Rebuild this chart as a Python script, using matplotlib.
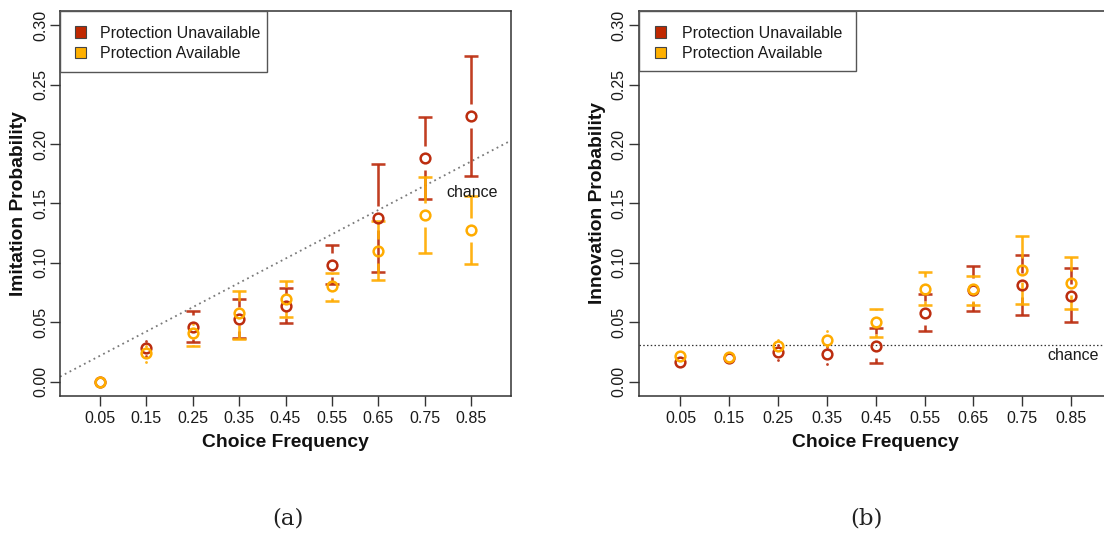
import matplotlib
matplotlib.use("Agg")
import matplotlib.pyplot as plt
from matplotlib.patches import Rectangle

# ---------------- data ----------------
choice_freq = [0.05, 0.15, 0.25, 0.35, 0.45, 0.55, 0.65, 0.75, 0.85]
x_ticklabels = ["0.05", "0.15", "0.25", "0.35", "0.45", "0.55", "0.65", "0.75", "0.85"]
y_ticks = [0.00, 0.05, 0.10, 0.15, 0.20, 0.25, 0.30]
y_ticklabels = ["0.00", "0.05", "0.10", "0.15", "0.20", "0.25", "0.30"]
series_labels = ["Protection Unavailable", "Protection Available"]

# (a) Imitation probability
imit_unavail = [0.000, 0.028, 0.0463, 0.0527, 0.0639, 0.098, 0.138, 0.1887, 0.2237]
imit_unavail_lo = [0.000, 0.022, 0.0336, 0.0364, 0.0496, 0.0819, 0.0925, 0.1542, 0.1733]
imit_unavail_hi = [0.000, 0.0345, 0.0594, 0.070, 0.0785, 0.115, 0.1836, 0.2229, 0.2742]
imit_avail = [0.000, 0.0238, 0.0412, 0.0575, 0.0695, 0.0805, 0.110, 0.140, 0.1276]
imit_avail_lo = [0.000, 0.0168, 0.030, 0.0356, 0.0547, 0.0678, 0.086, 0.108, 0.0995]
imit_avail_hi = [0.000, 0.030, 0.0485, 0.0763, 0.0847, 0.0917, 0.135, 0.1724, 0.1562]
chance_imit_intercept = 0.0116
chance_imit_slope = 0.2045

# (b) Innovation probability
innov_unavail = [0.0168, 0.020, 0.025, 0.0237, 0.030, 0.058, 0.0774, 0.081, 0.0723]
innov_unavail_lo = [0.0150, 0.0175, 0.018, 0.015, 0.0154, 0.0427, 0.0595, 0.0559, 0.0503]
innov_unavail_hi = [0.0190, 0.0225, 0.031, 0.029, 0.045, 0.074, 0.097, 0.1067, 0.0955]
innov_avail = [0.0215, 0.021, 0.030, 0.0355, 0.050, 0.078, 0.078, 0.094, 0.0832]
innov_avail_lo = [0.0195, 0.019, 0.026, 0.030, 0.038, 0.065, 0.065, 0.0656, 0.0615]
innov_avail_hi = [0.0235, 0.023, 0.0355, 0.043, 0.0615, 0.092, 0.0894, 0.1223, 0.1053]
chance_innov = 0.0313

# ---------------- style ----------------
W, H, DPI = 1104, 533, 100
RED = "#BC2D0F"
ORANGE = "#FFAC00"
RED_FILL = "#C02800"
ORANGE_FILL = "#FFB000"
FONT = ["Liberation Sans", "DejaVu Sans"]
plt.rcParams["font.family"] = FONT

fig = plt.figure(figsize=(W / DPI, H / DPI), dpi=DPI)


def add_axes_px(left, top, right, bottom):
    return fig.add_axes([left / W, 1 - bottom / H, (right - left) / W, (bottom - top) / H])


panels = [
    dict(box=(60, 11, 511, 396), y=(imit_unavail, imit_unavail_lo, imit_unavail_hi),
         y2=(imit_avail, imit_avail_lo, imit_avail_hi), ylabel="Imitation Probability",
         leg=(60, 11, 267, 72), sq_x=80, txt_x=100, chance_xy=(0.853, 0.159),
         ylab_x=23.3, tag="(a)", tag_x=288),
    dict(box=(638.5, 11, 1113, 396), y=(innov_unavail, innov_unavail_lo, innov_unavail_hi),
         y2=(innov_avail, innov_avail_lo, innov_avail_hi), ylabel="Innovation Probability",
         leg=(638.5, 11, 856, 71), sq_x=660, txt_x=682, chance_xy=(0.854, 0.0225),
         ylab_x=601.8, tag="(b)", tag_x=866.7),
]

GAP_PX = 12.0
LW = 1.85


def draw_series(ax, x, y, lo, hi, color):
    p0 = ax.transData.transform((0, 0))
    p1 = ax.transData.transform((0, 1))
    ppu = p1[1] - p0[1]
    gap = GAP_PX / ppu
    for xi, yi, l, h in zip(x, y, lo, hi):
        for bound, sgn in ((h, 1), (l, -1)):
            d = (bound - yi) * sgn
            if d > gap:
                ax.plot([xi, xi], [yi + sgn * gap, bound], color=color, lw=LW,
                        solid_capstyle="butt", alpha=0.92, zorder=3)
                ax.plot([xi], [bound], marker="_", ms=9.5, mew=LW, color=color,
                        alpha=0.92, zorder=3)
            elif d * ppu > 5:
                ax.plot([xi], [bound], marker="o", ms=2.0, mew=0, color=color,
                        alpha=0.9, zorder=3)
    ax.plot(x, y, ls="none", marker="o", ms=7.0, mfc="none", mec=color, mew=1.8, zorder=4)


for i, p in enumerate(panels):
    L, T, R, B = p["box"]
    ax = add_axes_px(L, T, R, B)
    ax.set_xlim(-0.036, 0.936)
    ax.set_ylim(-0.012, 0.312)
    ax.set_xticks(choice_freq)
    ax.set_xticklabels(x_ticklabels)
    ax.set_yticks(y_ticks)
    ax.set_yticklabels(y_ticklabels, rotation=90, va="center")
    ax.tick_params(axis="both", direction="out", length=7.5, width=1.0, color="#333333",
                   labelsize=11.5, labelcolor="#1a1a1a")
    ax.tick_params(axis="x", pad=3.0)
    ax.tick_params(axis="y", pad=1.2)
    for s in ax.spines.values():
        s.set_color("#333333")
        s.set_linewidth(1.1)

    # chance reference
    if i == 0:
        ax.axline((0, chance_imit_intercept), slope=chance_imit_slope, color="#7a7a7a",
                  lw=1.3, ls=(0, (1, 2.0)), zorder=2)
    else:
        ax.axhline(chance_innov, color="#333333", lw=0.9, ls=(0, (1.2, 1.8)), zorder=2)
    ax.text(p["chance_xy"][0], p["chance_xy"][1], "chance", ha="center", va="center",
            fontsize=11.5, color="#1a1a1a", zorder=5)

    y, lo, hi = p["y"]
    draw_series(ax, choice_freq, y, lo, hi, RED)
    y, lo, hi = p["y2"]
    draw_series(ax, choice_freq, y, lo, hi, ORANGE)

    # legend drawn in pixel-based axes fraction
    aw, ah = R - L, B - T

    def fx(px):
        return (px - L) / aw

    def fy(py):
        return (B - py) / ah

    lL, lT, lR, lB = p["leg"]
    ax.add_patch(Rectangle((fx(lL), fy(lB)), fx(lR) - fx(lL), fy(lT) - fy(lB),
                           transform=ax.transAxes, facecolor="white", edgecolor="#555555",
                           lw=1.0, zorder=6, clip_on=False))
    for j, (lab, fc) in enumerate(zip(series_labels, [RED_FILL, ORANGE_FILL])):
        cy = 32 + 20 * j
        sq = 11
        ax.add_patch(Rectangle((fx(p["sq_x"] - sq / 2), fy(cy + sq / 2)), sq / aw, sq / ah,
                               transform=ax.transAxes, facecolor=fc, edgecolor="#444444",
                               lw=0.8, zorder=7, clip_on=False))
        ax.text(fx(p["txt_x"]), fy(cy + 6.5), lab, transform=ax.transAxes, ha="left",
                va="baseline", fontsize=11.5, color="#1a1a1a", zorder=7)

    # axis labels
    fig.text(((L + R) / 2) / W, 1 - 447 / H, "Choice Frequency", ha="center", va="baseline",
             fontsize=13.9, fontweight="bold", color="#111111")
    fig.text(p["ylab_x"] / W, 1 - ((T + B) / 2) / H, p["ylabel"], rotation=90,
             rotation_mode="anchor", ha="center", va="baseline", fontsize=13.9,
             fontweight="bold", color="#111111")
    fig.text(p["tag_x"] / W, 1 - 524 / H, p["tag"], ha="center", va="baseline",
             fontsize=16.5, family=["DejaVu Serif"], color="#222222")

fig.savefig("out.png", dpi=DPI)
